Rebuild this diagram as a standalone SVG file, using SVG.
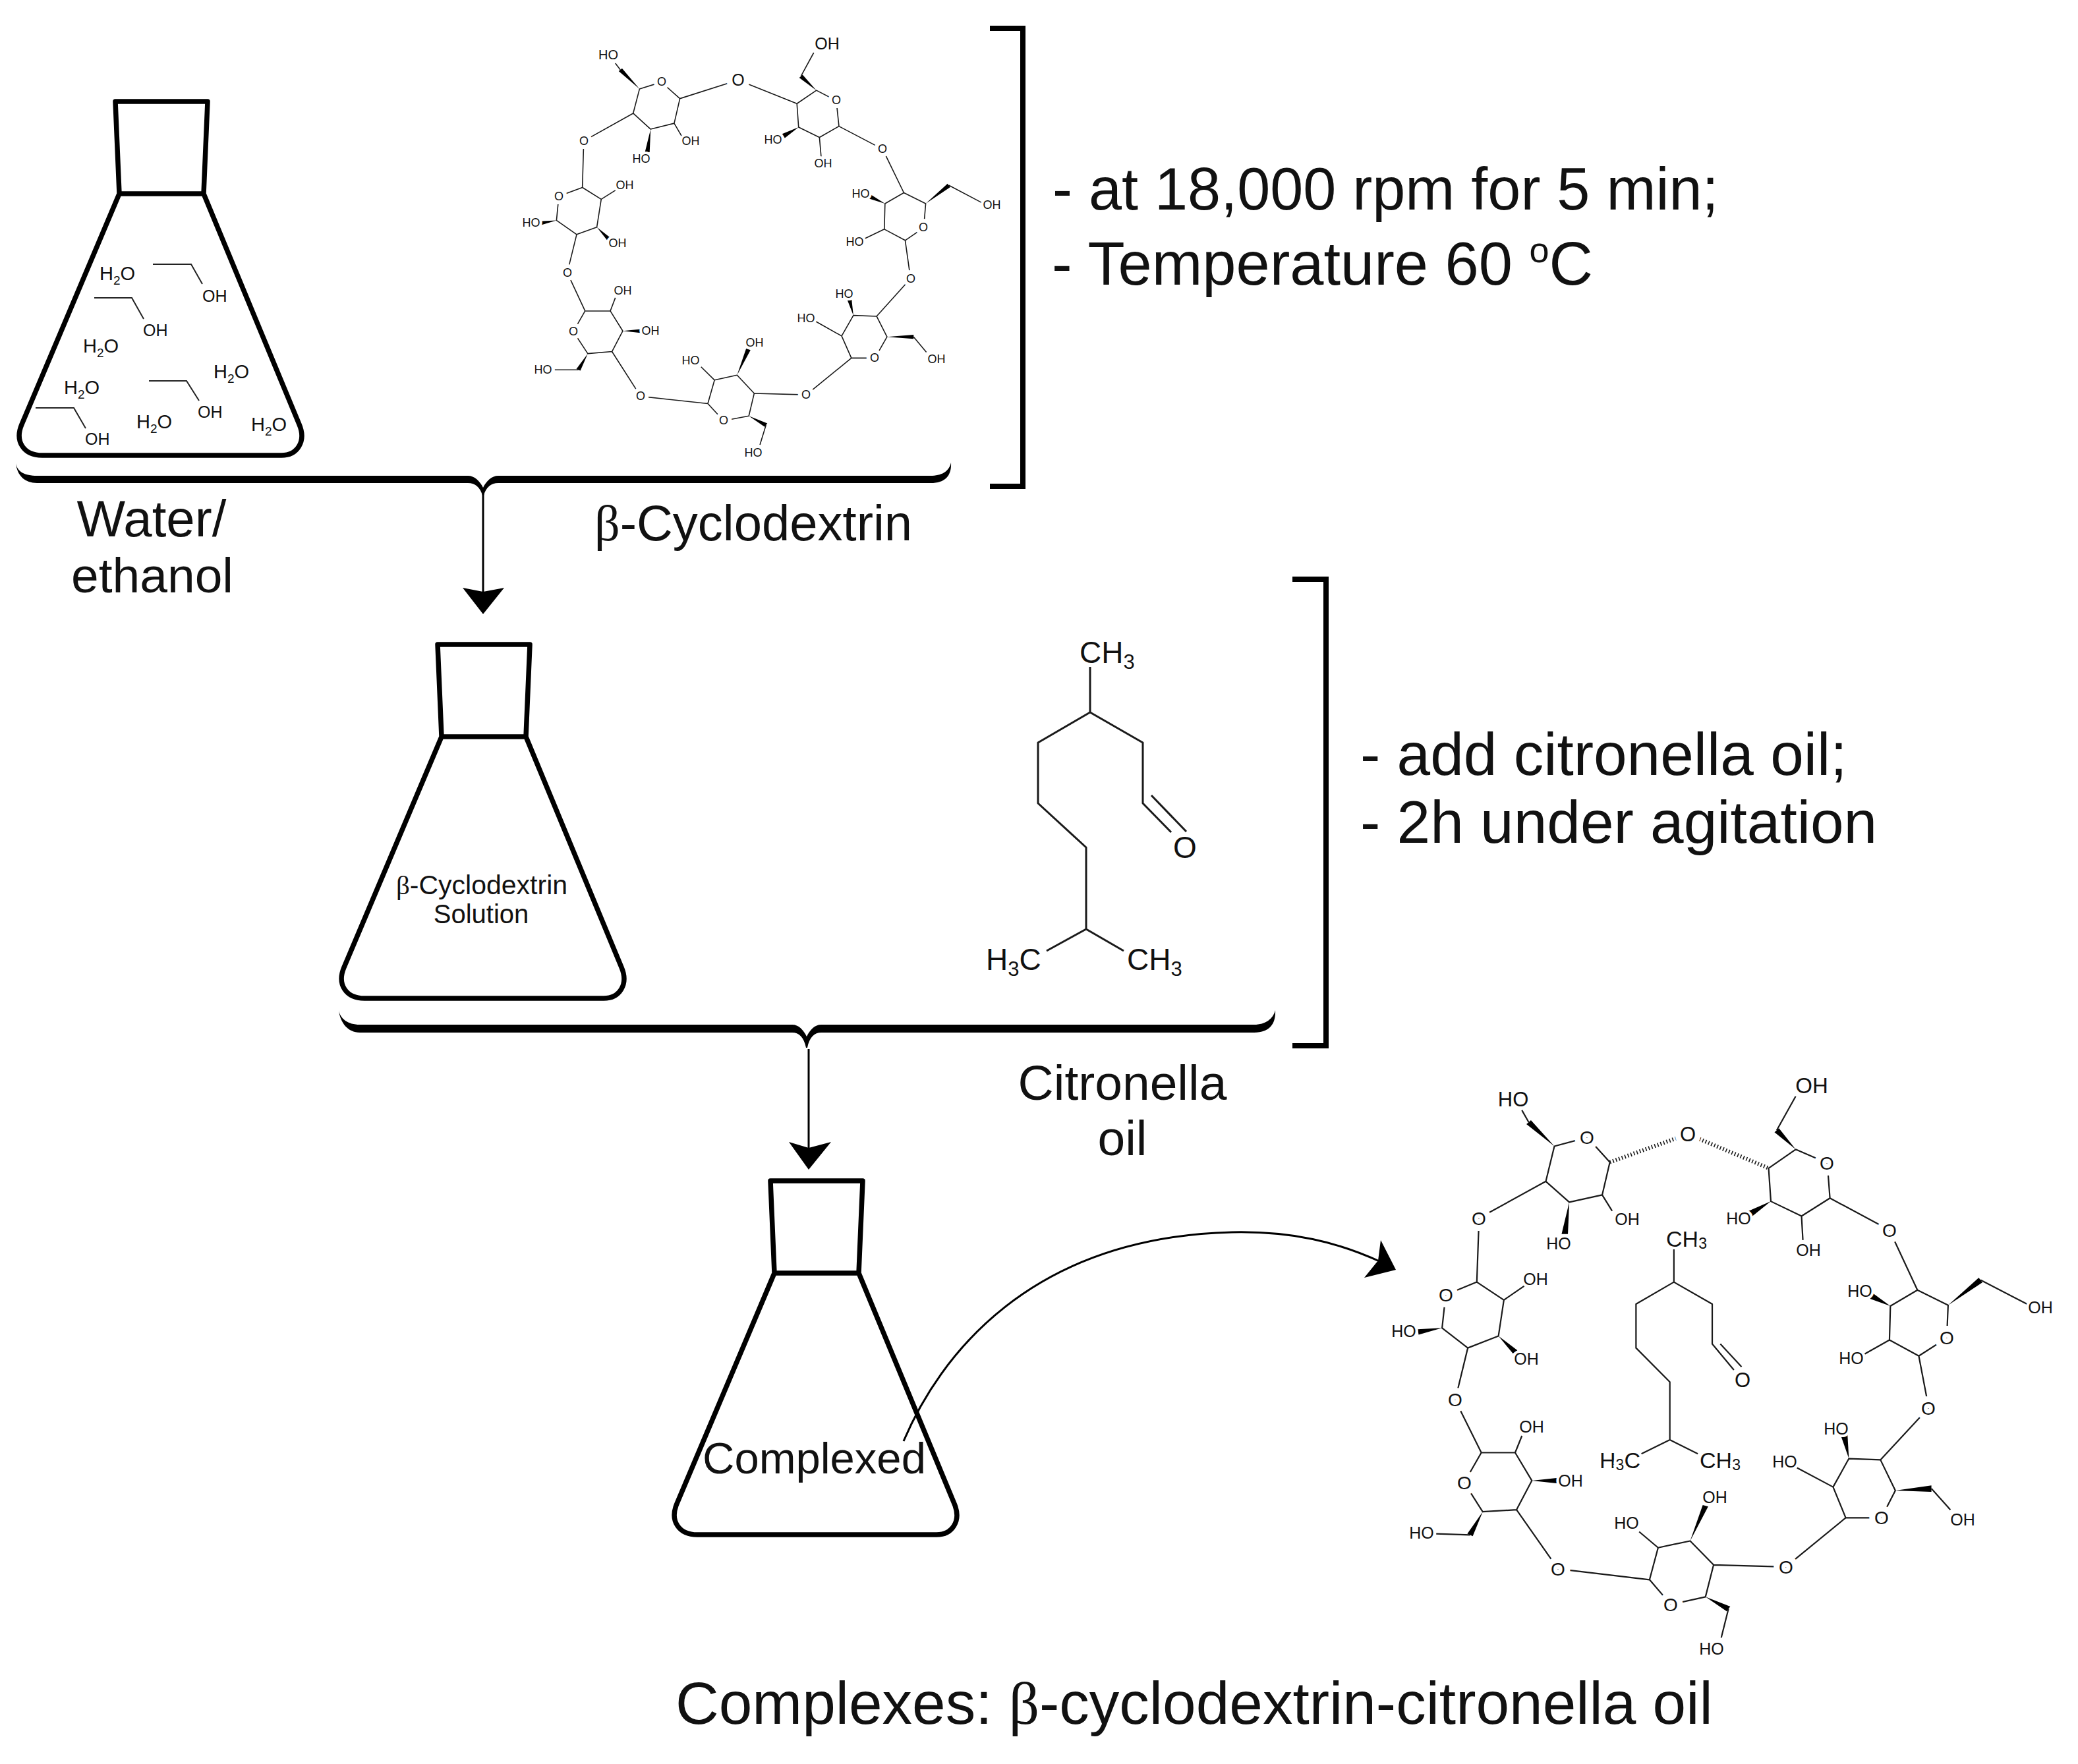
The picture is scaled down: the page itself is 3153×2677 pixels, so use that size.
<svg xmlns="http://www.w3.org/2000/svg" width="3153" height="2677" viewBox="0 0 3153 2677">
<style>
text{font-family:"Liberation Sans",Arial,sans-serif;fill:#111}
.sym{font-family:"Liberation Serif","DejaVu Serif",serif}
.flask{fill:none;stroke:#000;stroke-width:7.5;stroke-linejoin:round}
.bond{fill:none;stroke:#1a1a1a;stroke-width:1.6;stroke-linejoin:round;vector-effect:non-scaling-stroke}
.bond2{fill:none;stroke:#1a1a1a;stroke-width:2.2;stroke-linejoin:round;vector-effect:non-scaling-stroke}
.hash{fill:none;stroke:#1a1a1a;stroke-width:6;stroke-dasharray:1.6 3.2;vector-effect:non-scaling-stroke}
.eth{fill:none;stroke:#222;stroke-width:2}
.wedge{fill:#000}
.a{text-anchor:middle;dominant-baseline:central;stroke:#fff;stroke-width:8;paint-order:stroke}
.o{stroke-width:18}
.m1{font-size:18px}.m1b{font-size:20px}.m1c{font-size:25px}
.m2{font-size:25px}.m2o{font-size:28px}.m2b{font-size:31px}.m2c{font-size:34px}
.wat{font-size:29px}.ohe{font-size:25px}
.chem{font-size:46px}
.lab{font-size:75px}
.big{font-size:90px}
.brk{fill:none;stroke:#000;stroke-width:8}
.brace{fill:#000;stroke:none}
.line{fill:none;stroke:#000;stroke-width:3}
.head{fill:#000}
</style>
<defs>
<path id="flaskShape" class="flask" d="M181,294L175,154H315L309,294ZM181,294L33,644C22,670 36,691 64,691H427C451,691 465,670 454,644L309,294"/>
</defs>

<g id="connectors">
<path class="brace" d="M24,703C26,716 38,722 56,722H710C720,722 728,730 733,740C738,730 746,722 756,722H1412C1428,722 1440,716 1443,702C1444,720 1436,733 1412,733H756C745,733 737,740 734,752H732C729,740 721,733 710,733H56C38,733 26,722 24,703Z"/>
<path class="line" d="M733,750V905"/>
<polygon class="head" points="702,892 733,898 765,892 733,932"/>
<path class="brace" d="M514,1533C516,1546 528,1555 546,1555H1202C1212,1555 1219,1563 1224,1573C1229,1563 1236,1555 1246,1555H1903C1920,1555 1932,1546 1935,1533C1936,1552 1928,1567 1903,1567H1246C1236,1567 1228,1574 1225,1590H1223C1220,1574 1212,1567 1202,1567H546C528,1567 516,1552 514,1533Z"/>
<path class="line" d="M1227,1592V1745"/>
<polygon class="head" points="1197,1733 1227,1742 1261,1733 1227,1775"/>
<path class="brk" d="M1502,43H1552V738H1502"/>
<path class="brk" d="M1961,879H2012V1587H1961"/>
<path class="line" d="M1371,2187C1425,2060 1560,1878 1869,1870C1960,1868 2030,1885 2095,1915"/>
<polygon class="head" points="2118,1927 2095,1882 2091,1913 2070,1939"/>
</g>

<g id="flask-water">
<use href="#flaskShape"/>
<path class="eth" d="M232,401H290L307,431M143,452H200L218,484M226,578H283L302,608M54,619H112L130,650"/>
<text class="wat" x="151" y="425">H<tspan font-size="19" dy="7">2</tspan><tspan dy="-7">O</tspan></text>
<text class="wat" x="126" y="535">H<tspan font-size="19" dy="7">2</tspan><tspan dy="-7">O</tspan></text>
<text class="wat" x="97" y="598">H<tspan font-size="19" dy="7">2</tspan><tspan dy="-7">O</tspan></text>
<text class="wat" x="324" y="574">H<tspan font-size="19" dy="7">2</tspan><tspan dy="-7">O</tspan></text>
<text class="wat" x="207" y="650">H<tspan font-size="19" dy="7">2</tspan><tspan dy="-7">O</tspan></text>
<text class="wat" x="381" y="654">H<tspan font-size="19" dy="7">2</tspan><tspan dy="-7">O</tspan></text>
<text class="ohe" x="307" y="458">OH</text>
<text class="ohe" x="217" y="510">OH</text>
<text class="ohe" x="300" y="634">OH</text>
<text class="ohe" x="129" y="675">OH</text>
<text class="lab" style="font-size:78px" x="230" y="814" text-anchor="middle">Water/</text>
<text class="lab" x="231" y="899" text-anchor="middle">ethanol</text>
</g>

<g id="molecule-cyclodextrin">
<g transform="translate(750,30) scale(.5102,.4464)">
<path class="bond" d="M497,212L552,268L535,352L465,372L413,318L432,235ZM552,268L725,205L900,285M413,318L266,412L262,570M375,170L360,148M535,352L557,395M900,285L958,240L1017,275L1025,362L967,400L905,365ZM912,192L950,112M967,400L972,465M1025,362L1155,440L1218,588M1218,588L1283,625L1277,707L1222,750L1160,712L1162,625ZM1352,563L1450,622M1160,712L1100,745M1222,750L1238,880L1137,1008M1137,1008L1168,1078L1132,1150L1062,1150L1033,1075L1068,1005ZM1247,1078L1285,1130M1033,1075L955,1025M1062,1150L928,1275L773,1270M773,1270L757,1347L682,1363L635,1305L655,1225L722,1208ZM808,1378L790,1445M655,1225L615,1180M635,1305L435,1280L350,1128M350,1128L278,1135L235,1060L270,990L345,990L382,1058ZM250,1190L180,1190M345,990L360,945M270,990L217,860L245,730M245,730L305,705L318,610L262,570L192,600L185,682ZM318,610L360,580"/>
<polygon class="wedge" points="432,235 380,165 370,175"/>
<polygon class="wedge" points="465,372 448,450 462,450"/>
<polygon class="wedge" points="958,240 917,187 907,197"/>
<polygon class="wedge" points="905,365 856,388 864,402"/>
<polygon class="wedge" points="1283,625 1348,557 1356,569"/>
<polygon class="wedge" points="1162,625 1118,593 1112,607"/>
<polygon class="wedge" points="1168,1078 1247,1071 1247,1085"/>
<polygon class="wedge" points="1068,1005 1048,947 1062,943"/>
<polygon class="wedge" points="757,1347 812,1372 804,1384"/>
<polygon class="wedge" points="722,1208 749,1118 762,1123"/>
<polygon class="wedge" points="278,1135 244,1187 256,1193"/>
<polygon class="wedge" points="382,1058 440,1051 440,1065"/>
<polygon class="wedge" points="305,705 335,749 345,741"/>
<polygon class="wedge" points="185,682 134,685 136,699"/>
</g>
<g>
<text class="a m1b" x="923" y="83">HO</text><text class="a m1c" x="1255" y="66">OH</text><text class="a o m1c" x="1120" y="121">O</text>
<text class="a o m1" style="stroke-width:12" x="1004" y="124">O</text><text class="a m1" x="1048" y="214">OH</text><text class="a m1" x="973" y="241">HO</text>
<text class="a o m1" style="stroke-width:12" x="886" y="214">O</text><text class="a o m1" style="stroke-width:12" x="1269" y="152">O</text><text class="a m1" x="1173" y="212">HO</text>
<text class="a m1" x="1249" y="248">OH</text><text class="a o m1" style="stroke-width:12" x="1339" y="226">O</text><text class="a m1" x="1306" y="294">HO</text>
<text class="a m1" x="1505" y="311">OH</text><text class="a o m1" style="stroke-width:12" x="1401" y="345">O</text><text class="a m1" x="1297" y="367">HO</text>
<text class="a o m1" style="stroke-width:12" x="1382" y="423">O</text><text class="a m1" x="1281" y="446">HO</text><text class="a m1" x="1223" y="483">HO</text>
<text class="a o m1" style="stroke-width:12" x="1327" y="543">O</text><text class="a m1" x="1421" y="545">OH</text><text class="a o m1" style="stroke-width:12" x="1223" y="599">O</text>
<text class="a m1" x="1145" y="520">OH</text><text class="a m1" x="1048" y="547">HO</text><text class="a o m1" style="stroke-width:12" x="1098" y="638">O</text>
<text class="a m1" x="1143" y="687">HO</text><text class="a o m1" style="stroke-width:12" x="972" y="601">O</text><text class="a m1" x="824" y="561">HO</text>
<text class="a m1" x="987" y="502">OH</text><text class="a o m1" style="stroke-width:12" x="870" y="503">O</text><text class="a m1" x="945" y="441">OH</text>
<text class="a o m1" style="stroke-width:12" x="861" y="414">O</text><text class="a m1" x="937" y="369">OH</text><text class="a m1" x="948" y="281">OH</text>
<text class="a o m1" style="stroke-width:12" x="848" y="298">O</text><text class="a m1" x="806" y="338">HO</text>
</g>
<text class="lab" style="font-size:76px" x="902" y="820"><tspan class="sym">β</tspan>-Cyclodextrin</text>
</g>

<g id="conditions-1">
<text class="big" x="1597" y="318">- at 18,000 rpm for 5 min;</text>
<text class="big" style="font-size:92px" x="1596" y="432">- Temperature 60 <tspan font-size="54" dy="-34">o</tspan><tspan dy="34">C</tspan></text>
</g>

<g id="flask-solution">
<use href="#flaskShape" transform="translate(489,824)"/>
<text x="731" y="1357" font-size="41" text-anchor="middle"><tspan class="sym">β</tspan>-Cyclodextrin</text>
<text x="730" y="1401" font-size="40" text-anchor="middle">Solution</text>
</g>

<g id="molecule-citronella">
<path class="bond2" style="stroke-width:3" d="M1654,1012V1081L1734,1127V1219L1777,1263M1747,1207L1800,1262M1654,1081L1575,1127V1219L1648,1286V1410L1588,1443M1648,1410L1705,1443"/>
<text class="chem" x="1638" y="1006">CH<tspan font-size="31" dy="9">3</tspan></text>
<text class="a chem" x="1798" y="1286">O</text>
<text class="chem" x="1496" y="1472">H<tspan font-size="31" dy="9">3</tspan><tspan dy="-9">C</tspan></text>
<text class="chem" x="1710" y="1472">CH<tspan font-size="31" dy="9">3</tspan></text>
<text class="lab" x="1703" y="1669" text-anchor="middle">Citronella</text>
<text class="lab" x="1703" y="1753" text-anchor="middle">oil</text>
</g>

<g id="conditions-2">
<text class="big" style="font-size:91px" x="2064" y="1176">- add citronella oil;</text>
<text class="big" style="font-size:91px" x="2064" y="1279">- 2h under agitation</text>
</g>

<g id="flask-complexed">
<use href="#flaskShape" transform="translate(994,1638)"/>
<text x="1066" y="2236" font-size="67">Complexed</text>
</g>

<g id="molecule-complex">
<g transform="translate(2080,1600) scale(.6843,.6063)">
<path class="hash" d="M530,270L690,205M716,206L882,285"/>
<path class="bond2" d="M480,208L530,270L513,352L440,370L388,318L407,230ZM388,318L240,410L235,570M350,170L335,140M513,352L535,392M882,285L942,238L1012,272L1018,360L955,405L887,368ZM900,190L942,105M955,405L958,465M1018,360L1150,440L1212,590M1212,590L1280,628L1277,710L1215,755L1150,715L1152,630ZM1352,565L1455,625M1150,715L1095,750M1215,755L1237,885L1130,1015M1130,1015L1163,1092L1132,1160L1053,1160L1025,1083L1060,1012ZM1243,1087L1285,1140M1025,1083L945,1035M1053,1160L920,1283L760,1278M760,1278L742,1358L665,1377L618,1315L637,1235L708,1218ZM793,1388L777,1460M637,1235L595,1195M618,1315L415,1288L323,1140M323,1140L248,1145L207,1072L245,997L320,997L357,1067ZM220,1203L145,1200M320,997L335,955M245,997L187,865L215,735M215,735L283,705L295,615L235,570L166,602L158,685ZM295,615L340,580M672,485L672,570L757,625L757,725L805,790M775,725L822,782M672,570L588,625L588,735L663,820L663,965L600,1000M663,965L725,1000"/>
<polygon class="wedge" points="407,230 355,165 345,175"/>
<polygon class="wedge" points="440,370 423,450 437,450"/>
<polygon class="wedge" points="942,238 905,185 895,195"/>
<polygon class="wedge" points="887,368 836,393 844,407"/>
<polygon class="wedge" points="1280,628 1348,559 1356,571"/>
<polygon class="wedge" points="1152,630 1113,598 1107,612"/>
<polygon class="wedge" points="1163,1092 1243,1079 1243,1095"/>
<polygon class="wedge" points="1060,1012 1043,957 1057,953"/>
<polygon class="wedge" points="742,1358 797,1382 789,1394"/>
<polygon class="wedge" points="708,1218 736,1128 748,1132"/>
<polygon class="wedge" points="248,1145 214,1200 226,1206"/>
<polygon class="wedge" points="357,1067 415,1060 415,1074"/>
<polygon class="wedge" points="283,705 315,749 325,741"/>
<polygon class="wedge" points="158,685 104,688 106,702"/>
</g>
<g>
<text class="a m2b" x="2296" y="1668">HO</text><text class="a m2b" style="font-size:33px" x="2749" y="1647">OH</text><text class="a o m2b" x="2561" y="1721">O</text>
<text class="a o m2o" x="2408" y="1726">O</text><text class="a m2" x="2469" y="1850">OH</text><text class="a m2" x="2365" y="1887">HO</text>
<text class="a o m2o" x="2244" y="1849">O</text><text class="a o m2o" x="2772" y="1765">O</text><text class="a m2" x="2638" y="1849">HO</text>
<text class="a m2" x="2744" y="1897">OH</text><text class="a o m2o" x="2867" y="1867">O</text><text class="a m2" x="2822" y="1959">HO</text>
<text class="a m2" x="3096" y="1984">OH</text><text class="a o m2o" x="2954" y="2030">O</text><text class="a m2" x="2809" y="2061">HO</text>
<text class="a o m2o" x="2926" y="2137">O</text><text class="a m2" x="2786" y="2168">HO</text><text class="a m2" x="2708" y="2218">HO</text>
<text class="a o m2o" x="2855" y="2303">O</text><text class="a m2" x="2978" y="2306">OH</text><text class="a o m2o" x="2710" y="2378">O</text>
<text class="a m2" x="2602" y="2272">OH</text><text class="a m2" x="2468" y="2311">HO</text><text class="a o m2o" x="2535" y="2435">O</text>
<text class="a m2" x="2597" y="2502">HO</text><text class="a o m2o" x="2364" y="2381">O</text><text class="a m2" x="2157" y="2326">HO</text>
<text class="a m2" x="2383" y="2247">OH</text><text class="a o m2o" x="2222" y="2250">O</text><text class="a m2" x="2324" y="2165">OH</text>
<text class="a o m2o" x="2208" y="2124">O</text><text class="a m2" x="2316" y="2062">OH</text><text class="a m2" x="2330" y="1941">OH</text>
<text class="a o m2o" x="2194" y="1965">O</text><text class="a m2" x="2130" y="2020">HO</text>
<text class="a m2c" x="2559" y="1880">CH<tspan font-size="23" dy="7">3</tspan></text>
<text class="a m2b" x="2644" y="2094">O</text>
<text class="a m2c" x="2458" y="2216">H<tspan font-size="23" dy="7">3</tspan><tspan dy="-7">C</tspan></text>
<text class="a m2c" x="2610" y="2216">CH<tspan font-size="23" dy="7">3</tspan></text>
</g>
<text class="big" style="font-size:91px" x="1025" y="2616">Complexes: <tspan class="sym">β</tspan>-cyclodextrin-citronella oil</text>
</g>
</svg>
